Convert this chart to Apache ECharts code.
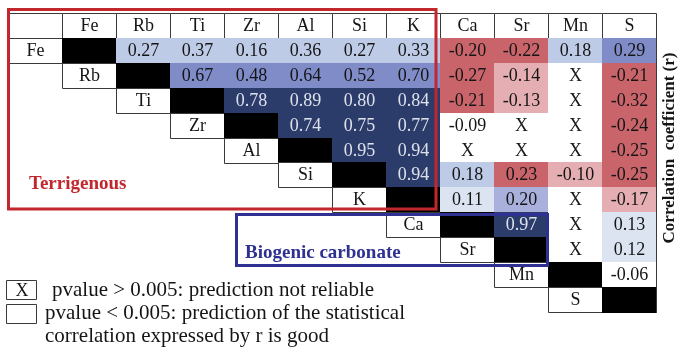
<!DOCTYPE html>
<html>
<head>
<meta charset="utf-8">
<script src="https://cdn.jsdelivr.net/npm/echarts@6/dist/echarts.min.js"></script>
<style>
  html, body { margin: 0; padding: 0; background: #fff; }
  #chart { width: 679px; height: 347px; }
</style>
</head>
<body>
<div id="chart"></div>
<script>
const elements = ['Fe', 'Rb', 'Ti', 'Zr', 'Al', 'Si', 'K', 'Ca', 'Sr', 'Mn', 'S']

// upper triangle of the matrix, each row starts right after the diagonal
// null = X (pvalue > 0.005)
const rFe = [0.27, 0.37, 0.16, 0.36, 0.27, 0.33, -0.20, -0.22, 0.18, 0.29]
const rRb = [0.67, 0.48, 0.64, 0.52, 0.70, -0.27, -0.14, null, -0.21]
const rTi = [0.78, 0.89, 0.80, 0.84, -0.21, -0.13, null, -0.32]
const rZr = [0.74, 0.75, 0.77, -0.09, null, null, -0.24]
const rAl = [0.95, 0.94, null, null, null, -0.25]
const rSi = [0.94, 0.18, 0.23, -0.10, -0.25]
const rK = [0.11, 0.20, null, -0.17]
const rCa = [0.97, null, 0.13]
const rSr = [null, 0.12]
const rMn = [-0.06]
const rS = []

// shade class printed in each cell (-2 red, -1 pink, 0 white, 1..5 light blue -> navy)
const shadeFe = [2, 2, 2, 2, 2, 2, -2, -2, 2, 4]
const shadeRb = [4, 4, 4, 4, 4, -2, -1, 0, -2]
const shadeTi = [5, 5, 5, 5, -2, -1, 0, -2]
const shadeZr = [5, 5, 5, 0, 0, 0, -2]
const shadeAl = [5, 5, 0, 0, 0, -2]
const shadeSi = [5, 2, -2, -1, -2]
const shadeK = [1, 3, 0, -1]
const shadeCa = [5, 0, 1]
const shadeSr = [0, 1]
const shadeMn = [0]
const shadeS = []

const rRows = [rFe, rRb, rTi, rZr, rAl, rSi, rK, rCa, rSr, rMn, rS]
const shadeRows = [shadeFe, shadeRb, shadeTi, shadeZr, shadeAl, shadeSi, shadeK, shadeCa, shadeSr, shadeMn, shadeS]

const shadeColors = {
  '-2': '#c8646a',
  '-1': '#e5aeb2',
  '0': '#ffffff',
  '1': '#dce4f2',
  '2': '#bdcbe7',
  '3': '#a8b0db',
  '4': '#7f8cc8',
  '5': '#2c3c6a'
}

const FONT = '"Liberation Serif", "Times New Roman", serif'

// build cell list: [col, row] on the category grid (col 0 / row 0 = headers)
const cells = []
cells.push({ pos: [0, 0], kind: 'head', text: '' })
elements.forEach((el, j) => cells.push({ pos: [j + 1, 0], kind: 'head', text: el }))
elements.forEach((el, i) => {
  cells.push({ pos: [i, i + 1], kind: 'head', text: el })
  cells.push({ pos: [i + 1, i + 1], kind: 'diag', text: '' })
  rRows[i].forEach((v, k) => {
    cells.push({
      pos: [i + 2 + k, i + 1],
      kind: 'val',
      text: v === null ? 'X' : v.toFixed(2),
      shade: shadeRows[i][k]
    })
  })
})

const axisNames = [''].concat(elements)

function renderCell(params, api) {
  const c = cells[params.dataIndex]
  const p = api.coord([api.value(0), api.value(1)])
  const s = api.size([1, 1])
  const x = Math.round(p[0] - s[0] / 2)
  const y = Math.round(p[1] - s[1] / 2)
  const w = Math.round(p[0] + s[0] / 2) - x
  const h = Math.round(p[1] + s[1] / 2) - y
  const children = []
  if (c.kind === 'head') {
    children.push({
      type: 'rect',
      shape: { x: x + 0.5, y: y + 0.5, width: w, height: h },
      style: { fill: '#fff', stroke: '#3a3a3a', lineWidth: 1 }
    })
  } else if (c.kind === 'diag') {
    children.push({
      type: 'rect',
      shape: { x: x, y: y, width: w + 1, height: h + 1 },
      style: { fill: '#000' }
    })
  } else {
    children.push({
      type: 'rect',
      shape: { x: x, y: y, width: w + 1, height: h + 1 },
      style: { fill: shadeColors[String(c.shade)] }
    })
  }
  if (api.value(0) === elements.length && c.kind !== 'head') {
    // right-hand frame of the table
    children.push({
      type: 'line',
      shape: { x1: x + w + 0.5, y1: y, x2: x + w + 0.5, y2: y + h + 1 },
      style: { stroke: '#3a3a3a', lineWidth: 1 }
    })
  }
  if (c.text) {
    children.push({
      type: 'text',
      style: {
        text: c.text,
        x: x + w / 2 + 0.5,
        y: y + h / 2 + 1,
        align: 'center',
        verticalAlign: 'middle',
        font: '18px ' + FONT,
        fill: c.kind === 'val' && c.shade === 5 ? '#dde1ec' : '#151515'
      }
    })
  }
  return { type: 'group', children: children }
}

const chart = echarts.init(document.getElementById('chart'))
chart.setOption({
  animation: false,
  grid: { left: 8, right: 23, top: 13, bottom: 35 },
  xAxis: { type: 'category', data: axisNames, show: false },
  yAxis: { type: 'category', data: axisNames, inverse: true, show: false },
  series: [
    {
      type: 'custom',
      renderItem: renderCell,
      data: cells.map(c => c.pos),
      encode: { x: 0, y: 1 },
      clip: false
    }
  ],
  graphic: [
    {
      type: 'rect', z: 100,
      shape: { x: 8.5, y: 9.5, width: 427.5, height: 199.5 },
      style: { fill: null, stroke: '#c1272d', lineWidth: 3 }
    },
    {
      type: 'text', z: 100,
      style: { text: 'Terrigenous', x: 29, y: 184, verticalAlign: 'middle', font: 'bold 19px ' + FONT, fill: '#c1272d' }
    },
    {
      type: 'rect', z: 100,
      shape: { x: 236.5, y: 214.5, width: 311, height: 51 },
      style: { fill: null, stroke: '#2e3192', lineWidth: 3 }
    },
    {
      type: 'text', z: 100,
      style: { text: 'Biogenic carbonate', x: 245, y: 253, verticalAlign: 'middle', font: 'bold 19px ' + FONT, fill: '#2e3192' }
    },
    {
      type: 'rect', z: 100,
      shape: { x: 6.5, y: 280.5, width: 30, height: 19 },
      style: { fill: '#fff', stroke: '#3a3a3a', lineWidth: 1 }
    },
    {
      type: 'text', z: 100,
      style: { text: 'X', x: 22, y: 291, align: 'center', verticalAlign: 'middle', font: '18px ' + FONT, fill: '#151515' }
    },
    {
      type: 'text', z: 100,
      style: { text: 'pvalue > 0.005: prediction not reliable', x: 52, y: 290, verticalAlign: 'middle', font: '21px ' + FONT, fill: '#151515' }
    },
    {
      type: 'rect', z: 100,
      shape: { x: 6.5, y: 304.5, width: 30, height: 19 },
      style: { fill: '#fff', stroke: '#3a3a3a', lineWidth: 1 }
    },
    {
      type: 'text', z: 100,
      style: { text: 'pvalue < 0.005: prediction of the statistical', x: 45, y: 313, verticalAlign: 'middle', font: '21px ' + FONT, fill: '#151515' }
    },
    {
      type: 'text', z: 100,
      style: { text: 'correlation expressed by r is good', x: 45, y: 336, verticalAlign: 'middle', font: '21px ' + FONT, fill: '#151515' }
    },
    {
      type: 'text', z: 100,
      x: 670, y: 148, rotation: Math.PI / 2,
      style: { text: 'Correlation  coefficient (r)', x: 0, y: 0, align: 'center', verticalAlign: 'middle', font: 'bold 17px ' + FONT, fill: '#151515' }
    }
  ]
})
</script>
</body>
</html>
